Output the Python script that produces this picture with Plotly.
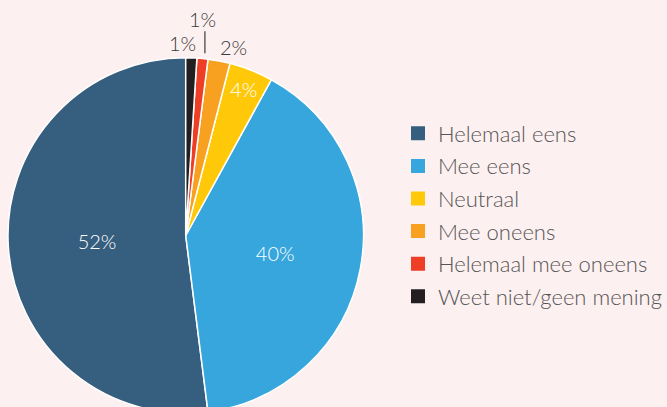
import math
import plotly.graph_objects as go

labels = ["Helemaal eens", "Mee eens", "Neutraal", "Mee oneens", "Helemaal mee oneens", "Weet niet/geen mening"]
values = [52, 40, 4, 2, 1, 1]
colors = ["#365e7e", "#36a6dd", "#ffc90a", "#f8a020", "#ee3e25", "#231f20"]
inside = [True, True, True, False, False, False]

W, H = 667, 420
cx, cy, r = 186, 235.5, 178
FONT = "Lato"
TXT = "#3a3a3a"

total = sum(values)
# first slice starts at 12 o'clock and runs counterclockwise
rot = -360.0 * values[0] / total
if rot < -180:
    rot += 360

fig = go.Figure()
fig.add_trace(go.Pie(
    labels=labels,
    values=values,
    sort=False,
    direction="counterclockwise",
    rotation=rot,
    marker=dict(colors=colors, line=dict(color="#ffffff", width=1.5)),
    texttemplate="%{value}%",
    textposition=["inside" if f else "none" for f in inside],
    insidetextorientation="horizontal",
    textfont=dict(family=FONT, size=20, color="#ffffff", weight=300),
    domain=dict(x=[(cx - r) / W, (cx + r) / W], y=[1 - (cy + r) / H, 1 - (cy - r) / H]),
    hoverinfo="label+percent",
    showlegend=False,
))

# legend entries (one group per category for the spacing)
for lab, col in zip(labels, colors):
    fig.add_trace(go.Scatter(
        x=[None], y=[None], mode="markers", name=lab, legendgroup=lab,
        marker=dict(symbol="square", size=14, color=col, line=dict(width=0)),
        hoverinfo="skip",
    ))

# outside labels for the small slices, placed from the slice angles
def slice_mid_angle(i):
    # angle clockwise from 12 o'clock; slices run counterclockwise from the top
    before = sum(values[:i])
    mid = before + values[i] / 2.0
    return (-360.0 * mid / total) % 360

def pt(angle_deg, rad):
    a = math.radians(angle_deg)
    return cx + rad * math.sin(a), cy - rad * math.cos(a)

annotations = []
shapes = []
for i, v in enumerate(values):
    if inside[i]:
        continue
    ang = slice_mid_angle(i)
    if i == len(values) - 1:
        # black slice: label to the left of the slice
        px_, py_ = pt(ang, r + 2)
        px_ += 6
        xa, ya = "right", "bottom"
    elif i == len(values) - 2:
        # red slice: label above a short vertical leader
        x0, y0 = pt(ang, r + 5)
        y1 = y0 - 22
        shapes.append(dict(type="line", xref="paper", yref="paper",
                           x0=(x0 + 2) / W, x1=(x0 + 2) / W, y0=1 - y0 / H, y1=1 - y1 / H,
                           line=dict(color=TXT, width=1.2)))
        px_, py_ = x0, y1 + 1
        xa, ya = "center", "bottom"
    else:
        px_, py_ = pt(ang, r + 1)
        xa, ya = "left", "bottom"
    annotations.append(dict(
        x=px_ / W, y=1 - py_ / H, xref="paper", yref="paper",
        text=f"{v}%", showarrow=False, xanchor=xa, yanchor=ya,
        font=dict(family=FONT, size=20, color=TXT, weight=300),
        borderpad=0,
    ))

fig.update_layout(
    width=W, height=H,
    margin=dict(l=0, r=0, t=0, b=0),
    paper_bgcolor="#fdf0f0",
    plot_bgcolor="#fdf0f0",
    font=dict(family=FONT, color="#555555"),
    xaxis=dict(visible=False),
    yaxis=dict(visible=False),
    annotations=annotations,
    shapes=shapes,
    legend=dict(
        x=0.598, y=1 - 215 / H, xanchor="left", yanchor="middle",
        font=dict(family=FONT, size=22, color="#555555", weight=300),
        bgcolor="rgba(0,0,0,0)",
        tracegroupgap=1,
        itemclick=False, itemdoubleclick=False,
    ),
)

fig.write_html(
    "out.html",
    config={"displayModeBar": False},
    post_script="document.body.style.margin='0';document.body.style.overflow='hidden';document.body.style.background='#fdf0f0';",
)
